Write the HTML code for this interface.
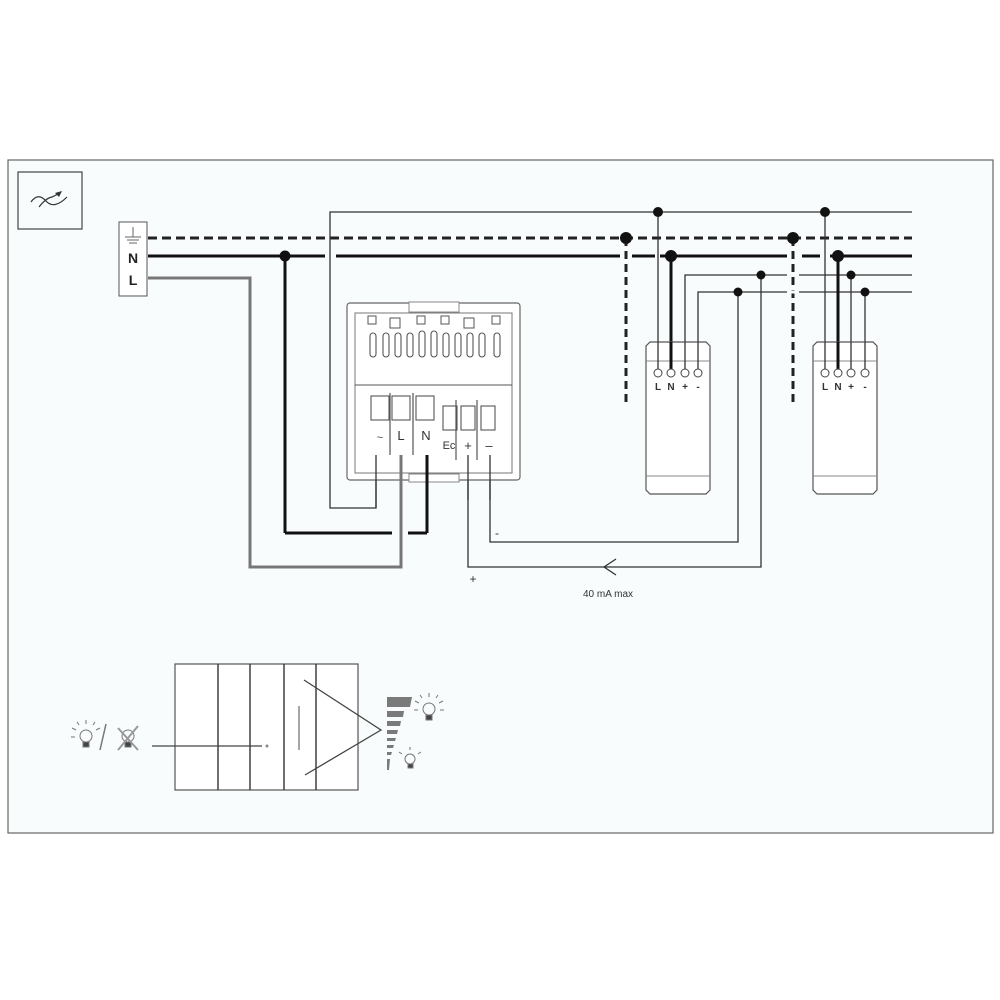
<!DOCTYPE html>
<html><head><meta charset="utf-8"><style>
html,body{margin:0;padding:0;background:#fff;}
svg{display:block;font-family:"Liberation Sans",sans-serif;}
</style></head><body>
<svg width="1000" height="1000" viewBox="0 0 1000 1000" xmlns="http://www.w3.org/2000/svg">
<rect x="0" y="0" width="1000" height="1000" fill="#fff"/>
<rect x="8" y="160" width="985" height="673" fill="#f9fcfd" stroke="#666" stroke-width="1.2"/>
<!-- icon box -->
<rect x="18" y="172" width="64" height="57" fill="none" stroke="#444" stroke-width="1.2"/>
<path d="M31 202 Q38 192 46 201 Q54 210 67 197" fill="none" stroke="#333" stroke-width="1.2"/>
<path d="M39 207 Q46 198 52 197 L60 193" fill="none" stroke="#333" stroke-width="1.2"/>
<path d="M62 191 L55 193 L59 197 Z" fill="#333"/>
<!-- terminal block -->
<rect x="119" y="222" width="28" height="74" fill="#fff" stroke="#555" stroke-width="1"/>
<line x1="133" y1="227" x2="133" y2="237" stroke="#666"/>
<line x1="125" y1="237" x2="141" y2="237" stroke="#666"/>
<line x1="127" y1="240" x2="139" y2="240" stroke="#666"/>
<line x1="129" y1="243" x2="137" y2="243" stroke="#666"/>
<text x="133" y="263" font-size="14" font-weight="bold" text-anchor="middle" fill="#222">N</text>
<text x="133" y="285" font-size="14" font-weight="bold" text-anchor="middle" fill="#222">L</text>
<!-- earth dashed -->
<line x1="148" y1="238" x2="912" y2="238" stroke="#222" stroke-width="3" stroke-dasharray="9,5"/>
<line x1="626" y1="238" x2="626" y2="405" stroke="#222" stroke-width="3" stroke-dasharray="8,5"/>
<line x1="793" y1="238" x2="793" y2="405" stroke="#222" stroke-width="3" stroke-dasharray="8,5"/>
<!-- N line -->
<line x1="148" y1="256" x2="325" y2="256" stroke="#111" stroke-width="3"/>
<line x1="336" y1="256" x2="620" y2="256" stroke="#111" stroke-width="3"/>
<line x1="632" y1="256" x2="655" y2="256" stroke="#111" stroke-width="3"/>
<line x1="660" y1="256" x2="787" y2="256" stroke="#111" stroke-width="3"/>
<line x1="802" y1="256" x2="820" y2="256" stroke="#111" stroke-width="3"/>
<line x1="830" y1="256" x2="912" y2="256" stroke="#111" stroke-width="3"/>
<circle cx="285" cy="256" r="5.5" fill="#111"/>
<line x1="285" y1="256" x2="285" y2="533" stroke="#111" stroke-width="3"/>
<line x1="285" y1="533" x2="392" y2="533" stroke="#111" stroke-width="3"/>
<line x1="408" y1="533" x2="427" y2="533" stroke="#111" stroke-width="3"/>
<!-- L line grey -->
<polyline points="148,278 250,278 250,567 401,567 401,440" fill="none" stroke="#777" stroke-width="3"/>
<!-- top loop line -->
<polyline points="376,440 376,508 330,508 330,212 912,212" fill="none" stroke="#333" stroke-width="1.3"/>
<!-- + and - lines -->
<polyline points="685,373 685,275 912,275" fill="none" stroke="#333" stroke-width="1.3"/>
<polyline points="698,373 698,292 912,292" fill="none" stroke="#333" stroke-width="1.3"/>
<line x1="787" y1="275" x2="799" y2="275" stroke="#f9fcfd" stroke-width="3"/>
<line x1="787" y1="292" x2="799" y2="292" stroke="#f9fcfd" stroke-width="3"/>
<line x1="620" y1="275" x2="632" y2="275" stroke="#f9fcfd" stroke-width="3"/>
<polyline points="468,440 468,567 761,567 761,275" fill="none" stroke="#333" stroke-width="1.3"/>
<polyline points="490,440 490,542 738,542 738,292" fill="none" stroke="#333" stroke-width="1.3"/>
<polyline points="616,559 604,567 616,575" fill="none" stroke="#333" stroke-width="1.3"/>
<text x="473" y="583" font-size="12" text-anchor="middle" fill="#333">+</text>
<text x="497" y="537" font-size="12" text-anchor="middle" fill="#333">-</text>
<text x="608" y="597" font-size="10" text-anchor="middle" fill="#333">40 mA max</text>
<!-- module verticals -->
<line x1="658" y1="212" x2="658" y2="373" stroke="#333" stroke-width="1.3"/>
<line x1="825" y1="212" x2="825" y2="373" stroke="#333" stroke-width="1.3"/>
<line x1="671" y1="256" x2="671" y2="373" stroke="#111" stroke-width="3"/>
<line x1="838" y1="256" x2="838" y2="373" stroke="#111" stroke-width="3"/>
<line x1="851" y1="275" x2="851" y2="373" stroke="#333" stroke-width="1.3"/>
<line x1="865" y1="292" x2="865" y2="373" stroke="#333" stroke-width="1.3"/>
<!-- dots -->
<g fill="#111">
<circle cx="626" cy="238" r="6"/><circle cx="793" cy="238" r="6"/>
<circle cx="658" cy="212" r="5"/><circle cx="825" cy="212" r="5"/>
<circle cx="671" cy="256" r="6"/><circle cx="838" cy="256" r="6"/>
<circle cx="761" cy="275" r="4.5"/><circle cx="851" cy="275" r="4.5"/>
<circle cx="738" cy="292" r="4.5"/><circle cx="865" cy="292" r="4.5"/>
</g>
<!-- modules -->
<g id="m1">
<path d="M650 342 L706 342 L710 346 L710 490 L706 494 L650 494 L646 490 L646 346 Z" fill="#fff" stroke="#555" stroke-width="1.2"/>
<line x1="646" y1="361" x2="710" y2="361" stroke="#888"/>
<line x1="646" y1="476" x2="710" y2="476" stroke="#888"/>
</g>
<path d="M817 342 L873 342 L877 346 L877 490 L873 494 L817 494 L813 490 L813 346 Z" fill="#fff" stroke="#555" stroke-width="1.2"/>
<line x1="813" y1="361" x2="877" y2="361" stroke="#888"/>
<line x1="813" y1="476" x2="877" y2="476" stroke="#888"/>
<line x1="658" y1="342" x2="658" y2="373" stroke="#333" stroke-width="1.3"/>
<line x1="671" y1="342" x2="671" y2="373" stroke="#111" stroke-width="3"/>
<line x1="685" y1="342" x2="685" y2="373" stroke="#333" stroke-width="1.3"/>
<line x1="698" y1="342" x2="698" y2="373" stroke="#333" stroke-width="1.3"/>
<line x1="825" y1="342" x2="825" y2="373" stroke="#333" stroke-width="1.3"/>
<line x1="838" y1="342" x2="838" y2="373" stroke="#111" stroke-width="3"/>
<line x1="851" y1="342" x2="851" y2="373" stroke="#333" stroke-width="1.3"/>
<line x1="865" y1="342" x2="865" y2="373" stroke="#333" stroke-width="1.3"/>
<g fill="#fff" stroke="#444" stroke-width="1">
<circle cx="658" cy="373" r="4"/><circle cx="671" cy="373" r="4"/><circle cx="685" cy="373" r="4"/><circle cx="698" cy="373" r="4"/>
<circle cx="825" cy="373" r="4"/><circle cx="838" cy="373" r="4"/><circle cx="851" cy="373" r="4"/><circle cx="865" cy="373" r="4"/>
</g>
<g font-size="10" font-weight="bold" fill="#333" text-anchor="middle">
<text x="658" y="390">L</text><text x="671" y="390">N</text><text x="685" y="390">+</text><text x="698" y="390">-</text>
<text x="825" y="390">L</text><text x="838" y="390">N</text><text x="851" y="390">+</text><text x="865" y="390">-</text>
</g>
<!-- device -->
<rect x="347" y="303" width="173" height="177" rx="3" fill="#fff" stroke="#666" stroke-width="1.2"/>
<rect x="409" y="302" width="50" height="10" fill="#fff" stroke="#888"/>
<rect x="355" y="313" width="157" height="160" fill="#fff" stroke="#777"/>
<g fill="#fff" stroke="#555" stroke-width="1">
<rect x="368" y="316" width="8" height="8"/><rect x="390" y="318" width="10" height="10"/><rect x="417" y="316" width="8" height="8"/><rect x="441" y="316" width="8" height="8"/><rect x="464" y="318" width="10" height="10"/><rect x="492" y="316" width="8" height="8"/>
</g>
<g fill="none" stroke="#555" stroke-width="1.1">
<rect x="370" y="333" width="6" height="24" rx="3"/><rect x="383" y="333" width="6" height="24" rx="3"/><rect x="395" y="333" width="6" height="24" rx="3"/><rect x="407" y="333" width="6" height="24" rx="3"/><rect x="419" y="331" width="6" height="26" rx="3"/><rect x="431" y="331" width="6" height="26" rx="3"/><rect x="443" y="333" width="6" height="24" rx="3"/><rect x="455" y="333" width="6" height="24" rx="3"/><rect x="467" y="333" width="6" height="24" rx="3"/><rect x="479" y="333" width="6" height="24" rx="3"/><rect x="494" y="333" width="6" height="24" rx="3"/>
</g>
<line x1="355" y1="385" x2="512" y2="385" stroke="#555"/>
<g fill="#fff" stroke="#555" stroke-width="1.1">
<rect x="371" y="396" width="18" height="24"/><rect x="392" y="396" width="18" height="24"/><rect x="416" y="396" width="18" height="24"/>
<rect x="443" y="406" width="14" height="24"/><rect x="461" y="406" width="14" height="24"/><rect x="481" y="406" width="14" height="24"/>
</g>
<g stroke="#555" stroke-width="1.2">
<line x1="390" y1="393" x2="390" y2="455"/><line x1="413" y1="393" x2="413" y2="455"/><line x1="456" y1="400" x2="456" y2="460"/><line x1="477" y1="400" x2="477" y2="460"/>
</g>
<text x="380" y="441" font-size="11" text-anchor="middle" fill="#444">~</text>
<text x="401" y="440" font-size="13" text-anchor="middle" fill="#333">L</text>
<text x="426" y="440" font-size="13" text-anchor="middle" fill="#333">N</text>
<text x="449" y="449" font-size="11" text-anchor="middle" fill="#333">Ec</text>
<text x="468" y="450" font-size="13" text-anchor="middle" fill="#333">+</text>
<text x="489" y="450" font-size="13" text-anchor="middle" fill="#333">–</text>
<rect x="409" y="474" width="50" height="8" fill="#fff" stroke="#888"/>
<line x1="376" y1="455" x2="376" y2="508" stroke="#333" stroke-width="1.3"/>
<line x1="401" y1="455" x2="401" y2="500" stroke="#777" stroke-width="3"/>
<line x1="427" y1="455" x2="427" y2="533" stroke="#111" stroke-width="3"/>
<line x1="468" y1="455" x2="468" y2="500" stroke="#333" stroke-width="1.3"/>
<line x1="490" y1="455" x2="490" y2="500" stroke="#333" stroke-width="1.3"/>
<!-- bottom block diagram -->
<rect x="175" y="664" width="183" height="126" fill="#fff" stroke="#555" stroke-width="1.2"/>
<g stroke="#333" stroke-width="1.4"><line x1="218" y1="664" x2="218" y2="790"/><line x1="250" y1="664" x2="250" y2="790"/><line x1="284" y1="664" x2="284" y2="790"/><line x1="316" y1="664" x2="316" y2="790"/></g>
<polyline points="304,680 381,730 305,775" fill="none" stroke="#444" stroke-width="1.3"/>
<line x1="299" y1="706" x2="299" y2="750" stroke="#888" stroke-width="1.5"/>
<line x1="152" y1="746" x2="262" y2="746" stroke="#444" stroke-width="1.2"/>
<circle cx="267" cy="746" r="1.5" fill="#888"/>
<line x1="100" y1="750" x2="106" y2="724" stroke="#777" stroke-width="1.5"/>
<g fill="none" stroke="#777" stroke-width="1">
<circle cx="86" cy="736" r="6"/><rect x="83" y="742" width="6" height="5" fill="#444"/>
<path d="M76 730 l-4 -2 M86 724 v-4 M96 730 l4 -2 M79 725 l-2 -3 M93 725 l2 -3 M75 737 h-4"/>
<circle cx="128" cy="736" r="6"/><rect x="125" y="742" width="6" height="5" fill="#444"/>
<path d="M118 728 L138 750 M138 726 L118 750" stroke="#999" stroke-width="2"/>
</g>
<g fill="#7a7a7a">
<polygon points="387,697 412,697 410,707 387,707"/>
<polygon points="387,711 404,711 403,717 387,717"/>
<polygon points="387,721 401,721 400,726 387,726"/>
<polygon points="387,730 398,730 397,734 387,734"/>
<polygon points="387,738 396,738 395,741 387,741"/>
<polygon points="387,745 394,745 393,748 387,748"/>
<polygon points="387,752 392,752 391,755 387,755"/>
<polygon points="387,759 390,759 389,770 387,770"/>
</g>
<g fill="none" stroke="#777" stroke-width="1">
<circle cx="429" cy="709" r="6"/><rect x="426" y="715" width="6" height="5" fill="#444"/>
<path d="M419 703 l-4 -2 M429 697 v-4 M439 703 l4 -2 M422 698 l-2 -3 M436 698 l2 -3 M418 710 h-4 M440 710 h4"/>
<circle cx="410" cy="759" r="5"/><rect x="408" y="764" width="5" height="4" fill="#444"/>
<path d="M402 754 l-3 -2 M410 750 v-3 M418 754 l3 -2"/>
</g>
</svg>
</body></html>
